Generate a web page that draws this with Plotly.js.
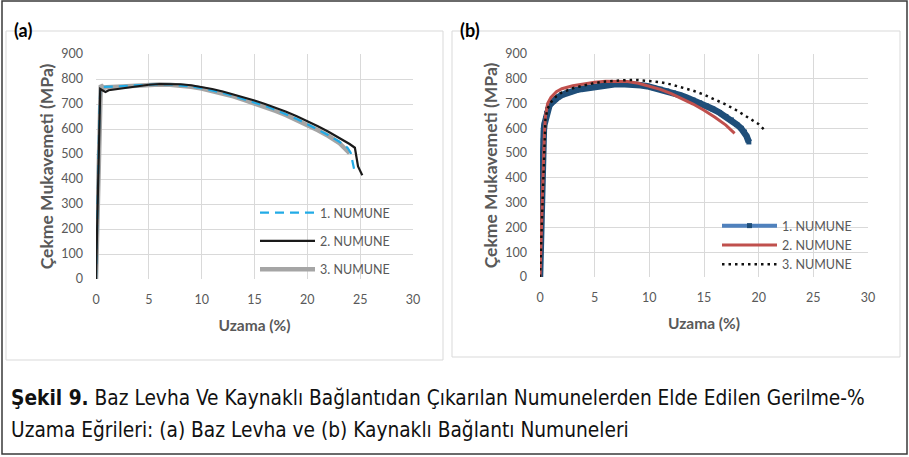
<!DOCTYPE html>
<html><head><meta charset="utf-8">
<script src="https://cdn.plot.ly/plotly-3.0.1.min.js"></script>
<style>html,body{margin:0;padding:0;background:#fff}</style>
</head><body><div id="chart" style="width:909px;height:457px"></div>
<script>
// ---- data: (a) Baz Levha ----
const seriesNames = ["1. NUMUNE", "2. NUMUNE", "3. NUMUNE"];
const xTickVals = [0, 5, 10, 15, 20, 25, 30];
const yTickVals = [0, 100, 200, 300, 400, 500, 600, 700, 800, 900];

const a1x = [0, 0.1, 0.2, 0.3, 0.4, 0.6, 1, 2, 3, 4, 5, 6, 7, 8, 9, 10, 11, 12, 13, 14, 15, 16, 17, 18, 19, 20, 21, 22, 23, 23.8, 24.1, 24.3, 24.5];
const a1y = [0, 150, 400, 620, 765, 768, 768, 770, 773, 776, 778, 779, 778, 775, 770, 763, 754, 744, 732, 719, 707, 692, 676, 659, 640, 619, 598, 575, 550, 525, 505, 470, 425];

const a2x = [0, 0.15, 0.3, 0.4, 0.6, 0.9, 1.2, 2, 3, 4, 5, 6, 7, 8, 9, 10, 11, 12, 13, 14, 15, 16, 17, 18, 19, 20, 21, 22, 23, 24, 24.5, 24.8, 25.2];
const a2y = [0, 300, 620, 760, 755, 748, 755, 760, 766, 772, 777, 780, 781, 779, 775, 768, 760, 750, 739, 727, 714, 700, 685, 669, 651, 632, 611, 589, 565, 540, 525, 450, 415];

const a3x = [0, 0.1, 0.2, 0.3, 0.45, 0.7, 1, 2, 3, 4, 5, 6, 7, 8, 9, 10, 11, 12, 13, 14, 15, 16, 17, 18, 19, 20, 21, 22, 23, 24];
const a3y = [0, 200, 450, 680, 775, 765, 767, 769, 772, 775, 777, 778, 777, 774, 769, 762, 753, 743, 731, 717, 703, 688, 672, 655, 636, 616, 595, 572, 545, 503];

// ---- data: (b) Kaynakli Baglanti ----
const b1x = [0, 0.02, 0.05, 0.08, 0.1, 0.15, 0.2, 0.25, 0.3, 0.35, 0.4, 0.5, 0.6, 0.7, 0.85, 1, 1.2, 1.4, 1.7, 2, 2.4, 2.8, 3.3, 3.8, 4.4, 5, 5.6, 6.2, 6.8, 7.4, 8, 8.6, 9.2, 9.8, 10.4, 11, 11.6, 12.2, 12.8, 13.4, 14, 14.6, 15.2, 15.8, 16.4, 17, 17.5, 18, 18.4, 18.7, 18.9, 19.1];
const b1y = [0, 50, 130, 200, 280, 360, 440, 500, 550, 590, 615, 640, 660, 675, 690, 700, 710, 718, 727, 735, 742, 748, 754, 759, 764, 769, 773, 776, 778, 779, 779, 777, 774, 770, 764, 758, 751, 743, 734, 724, 714, 703, 691, 678, 664, 648, 634, 615, 600, 585, 568, 545];

const b2x = [0, 0.1, 0.2, 0.3, 0.4, 0.5, 0.7, 1, 1.5, 2, 3, 4, 5, 6, 7, 8, 9, 10, 11, 12, 13, 14, 15, 16, 17, 17.8];
const b2y = [0, 120, 300, 440, 580, 650, 700, 725, 748, 760, 772, 780, 786, 790, 791, 789, 782, 771, 757, 740, 720, 698, 673, 645, 613, 580];

const b3x = [0, 0.1, 0.2, 0.3, 0.4, 0.5, 0.7, 1, 1.5, 2, 3, 4, 5, 6, 7, 8, 9, 10, 11, 12, 13, 14, 15, 16, 17, 18, 19, 20, 20.5];
const b3y = [0, 120, 290, 430, 560, 640, 680, 705, 730, 745, 762, 774, 783, 789, 793, 795, 795, 792, 786, 777, 766, 752, 736, 717, 696, 672, 646, 617, 595];

const axisTitleX = "Uzama (%)";
const axisTitleY = "Çekme Mukavemeti (MPa)";
const captionBold = "Şekil 9.";
const captionLine1 = " Baz Levha Ve Kaynaklı Bağlantıdan Çıkarılan Numunelerden Elde Edilen Gerilme-%";
const captionLine2 = "Uzama Eğrileri: (a) Baz Levha ve (b) Kaynaklı Bağlantı Numuneleri";

// ---- layout helpers ----
const W = 909, H = 457;
const fx = p => p / W;
const fy = p => 1 - p / H;
const grey = "#595959";
const fam = "Lato, 'Open Sans', sans-serif";
const tickFont = {family: fam, size: 12.5, color: grey};
const xTitleFont = {family: fam, size: 15.5, color: grey, weight: "bold"};
const yTitleFont = {family: fam, size: 17.5, color: grey, weight: "bold"};
const capFam = "'Liberation Sans Narrow', 'DejaVu Sans Condensed', 'Liberation Sans', sans-serif";

function xa(domain, anchor) {
  return {domain, anchor, range: [0, 30], tickvals: xTickVals, showline: false, zeroline: false,
    gridcolor: "#d9d9d9", gridwidth: 1, tickfont: tickFont, ticks: "", ticklabelstandoff: 11,
    title: {text: axisTitleX, font: xTitleFont, standoff: 14}, fixedrange: true};
}
function ya(domain, anchor) {
  return {domain, anchor, range: [0, 900], tickvals: yTickVals, showline: false, zeroline: false,
    gridcolor: "#d9d9d9", gridwidth: 1, tickfont: tickFont, ticks: "", ticklabelstandoff: 12,
    title: {text: axisTitleY, font: yTitleFont, standoff: 3}, fixedrange: true};
}

const traces = [
  {x: a3x, y: a3y, xaxis: "x", yaxis: "y", name: seriesNames[2], mode: "lines", legendrank: 3, legend: "legend", legendgroup: "a3",
    line: {color: "#a5a5a5", width: 4.5}},
  {x: a1x, y: a1y, xaxis: "x", yaxis: "y", name: seriesNames[0], mode: "lines", legendrank: 1, legend: "legend", legendgroup: "a1",
    line: {color: "#22abe6", width: 2.2, dash: "9px,6px"}},
  {x: a2x, y: a2y, xaxis: "x", yaxis: "y", name: seriesNames[1], mode: "lines", legendrank: 2, legend: "legend", legendgroup: "a2",
    line: {color: "#1a1a1a", width: 2.2}},
  // legend entry style for specimen 1 (b), drawn underneath the thick curve
  {x: b1x, y: b1y, xaxis: "x2", yaxis: "y2", name: seriesNames[0], mode: "lines+markers", legendrank: 1, legend: "legend2",
    line: {color: "#4f81bd", width: 4}, marker: {symbol: "square", size: 5, color: "#1f4e79"}},
  {x: b1x, y: b1y, xaxis: "x2", yaxis: "y2", name: seriesNames[0], mode: "lines", showlegend: false,
    line: {color: "#1f4e79", width: 6.5}},
  {x: b2x, y: b2y, xaxis: "x2", yaxis: "y2", name: seriesNames[1], mode: "lines", legendrank: 2, legend: "legend2",
    line: {color: "#c0504d", width: 3}},
  {x: b3x, y: b3y, xaxis: "x2", yaxis: "y2", name: seriesNames[2], mode: "lines", legendrank: 3, legend: "legend2",
    line: {color: "#111111", width: 2.5, dash: "2.5px,4px"}}
];

const legendFont = {family: fam, size: 12.5, color: grey};

const layout = {
  width: W, height: H, margin: {l: 0, r: 0, t: 0, b: 0},
  paper_bgcolor: "#fff", plot_bgcolor: "#fff", showlegend: true,
  xaxis: xa([fx(96), fx(413)], "y"),
  yaxis: ya([fy(279), fy(54)], "x"),
  xaxis2: xa([fx(540), fx(868)], "y2"),
  yaxis2: ya([fy(277), fy(54)], "x2"),
  legend: {x: fx(255), y: fy(198), xanchor: "left", yanchor: "top", font: legendFont, bgcolor: "rgba(0,0,0,0)",
    itemwidth: 55, tracegroupgap: 9, traceorder: "grouped"},
  legend2: {x: fx(717), y: fy(211), xanchor: "left", yanchor: "top", font: legendFont, bgcolor: "rgba(0,0,0,0)",
    itemwidth: 55, tracegroupgap: 1, traceorder: "normal"},
  shapes: [
    {type: "rect", xref: "paper", yref: "paper", x0: fx(2), x1: fx(907), y0: fy(454), y1: fy(1), line: {color: "#3a3a3a", width: 1.5}},
    {type: "rect", xref: "paper", yref: "paper", x0: fx(6), x1: fx(443), y0: fy(360), y1: fy(31), line: {color: "#d9d9d9", width: 1}},
    {type: "rect", xref: "paper", yref: "paper", x0: fx(452), x1: fx(900), y0: fy(357), y1: fy(31), line: {color: "#d9d9d9", width: 1}}
  ],
  annotations: [
    {text: "<b>(a)</b>", xref: "paper", yref: "paper", x: fx(12), y: fy(30), xanchor: "left", yanchor: "middle", showarrow: false,
      font: {family: fam, size: 18, color: "#000"}},
    {text: "<b>(b)</b>", xref: "paper", yref: "paper", x: fx(458), y: fy(30), xanchor: "left", yanchor: "middle", showarrow: false,
      font: {family: fam, size: 18, color: "#000"}},
    {text: "<b>" + captionBold + "</b>" + captionLine1, xref: "paper", yref: "paper", x: fx(9), y: fy(398), xanchor: "left", yanchor: "middle", showarrow: false,
      font: {family: capFam, size: 20.7, color: "#111"}},
    {text: captionLine2, xref: "paper", yref: "paper", x: fx(9), y: fy(430), xanchor: "left", yanchor: "middle", showarrow: false,
      font: {family: capFam, size: 20.7, color: "#111"}}
  ]
};

Plotly.newPlot("chart", traces, layout, {staticPlot: true, displayModeBar: false});
</script></body></html>
